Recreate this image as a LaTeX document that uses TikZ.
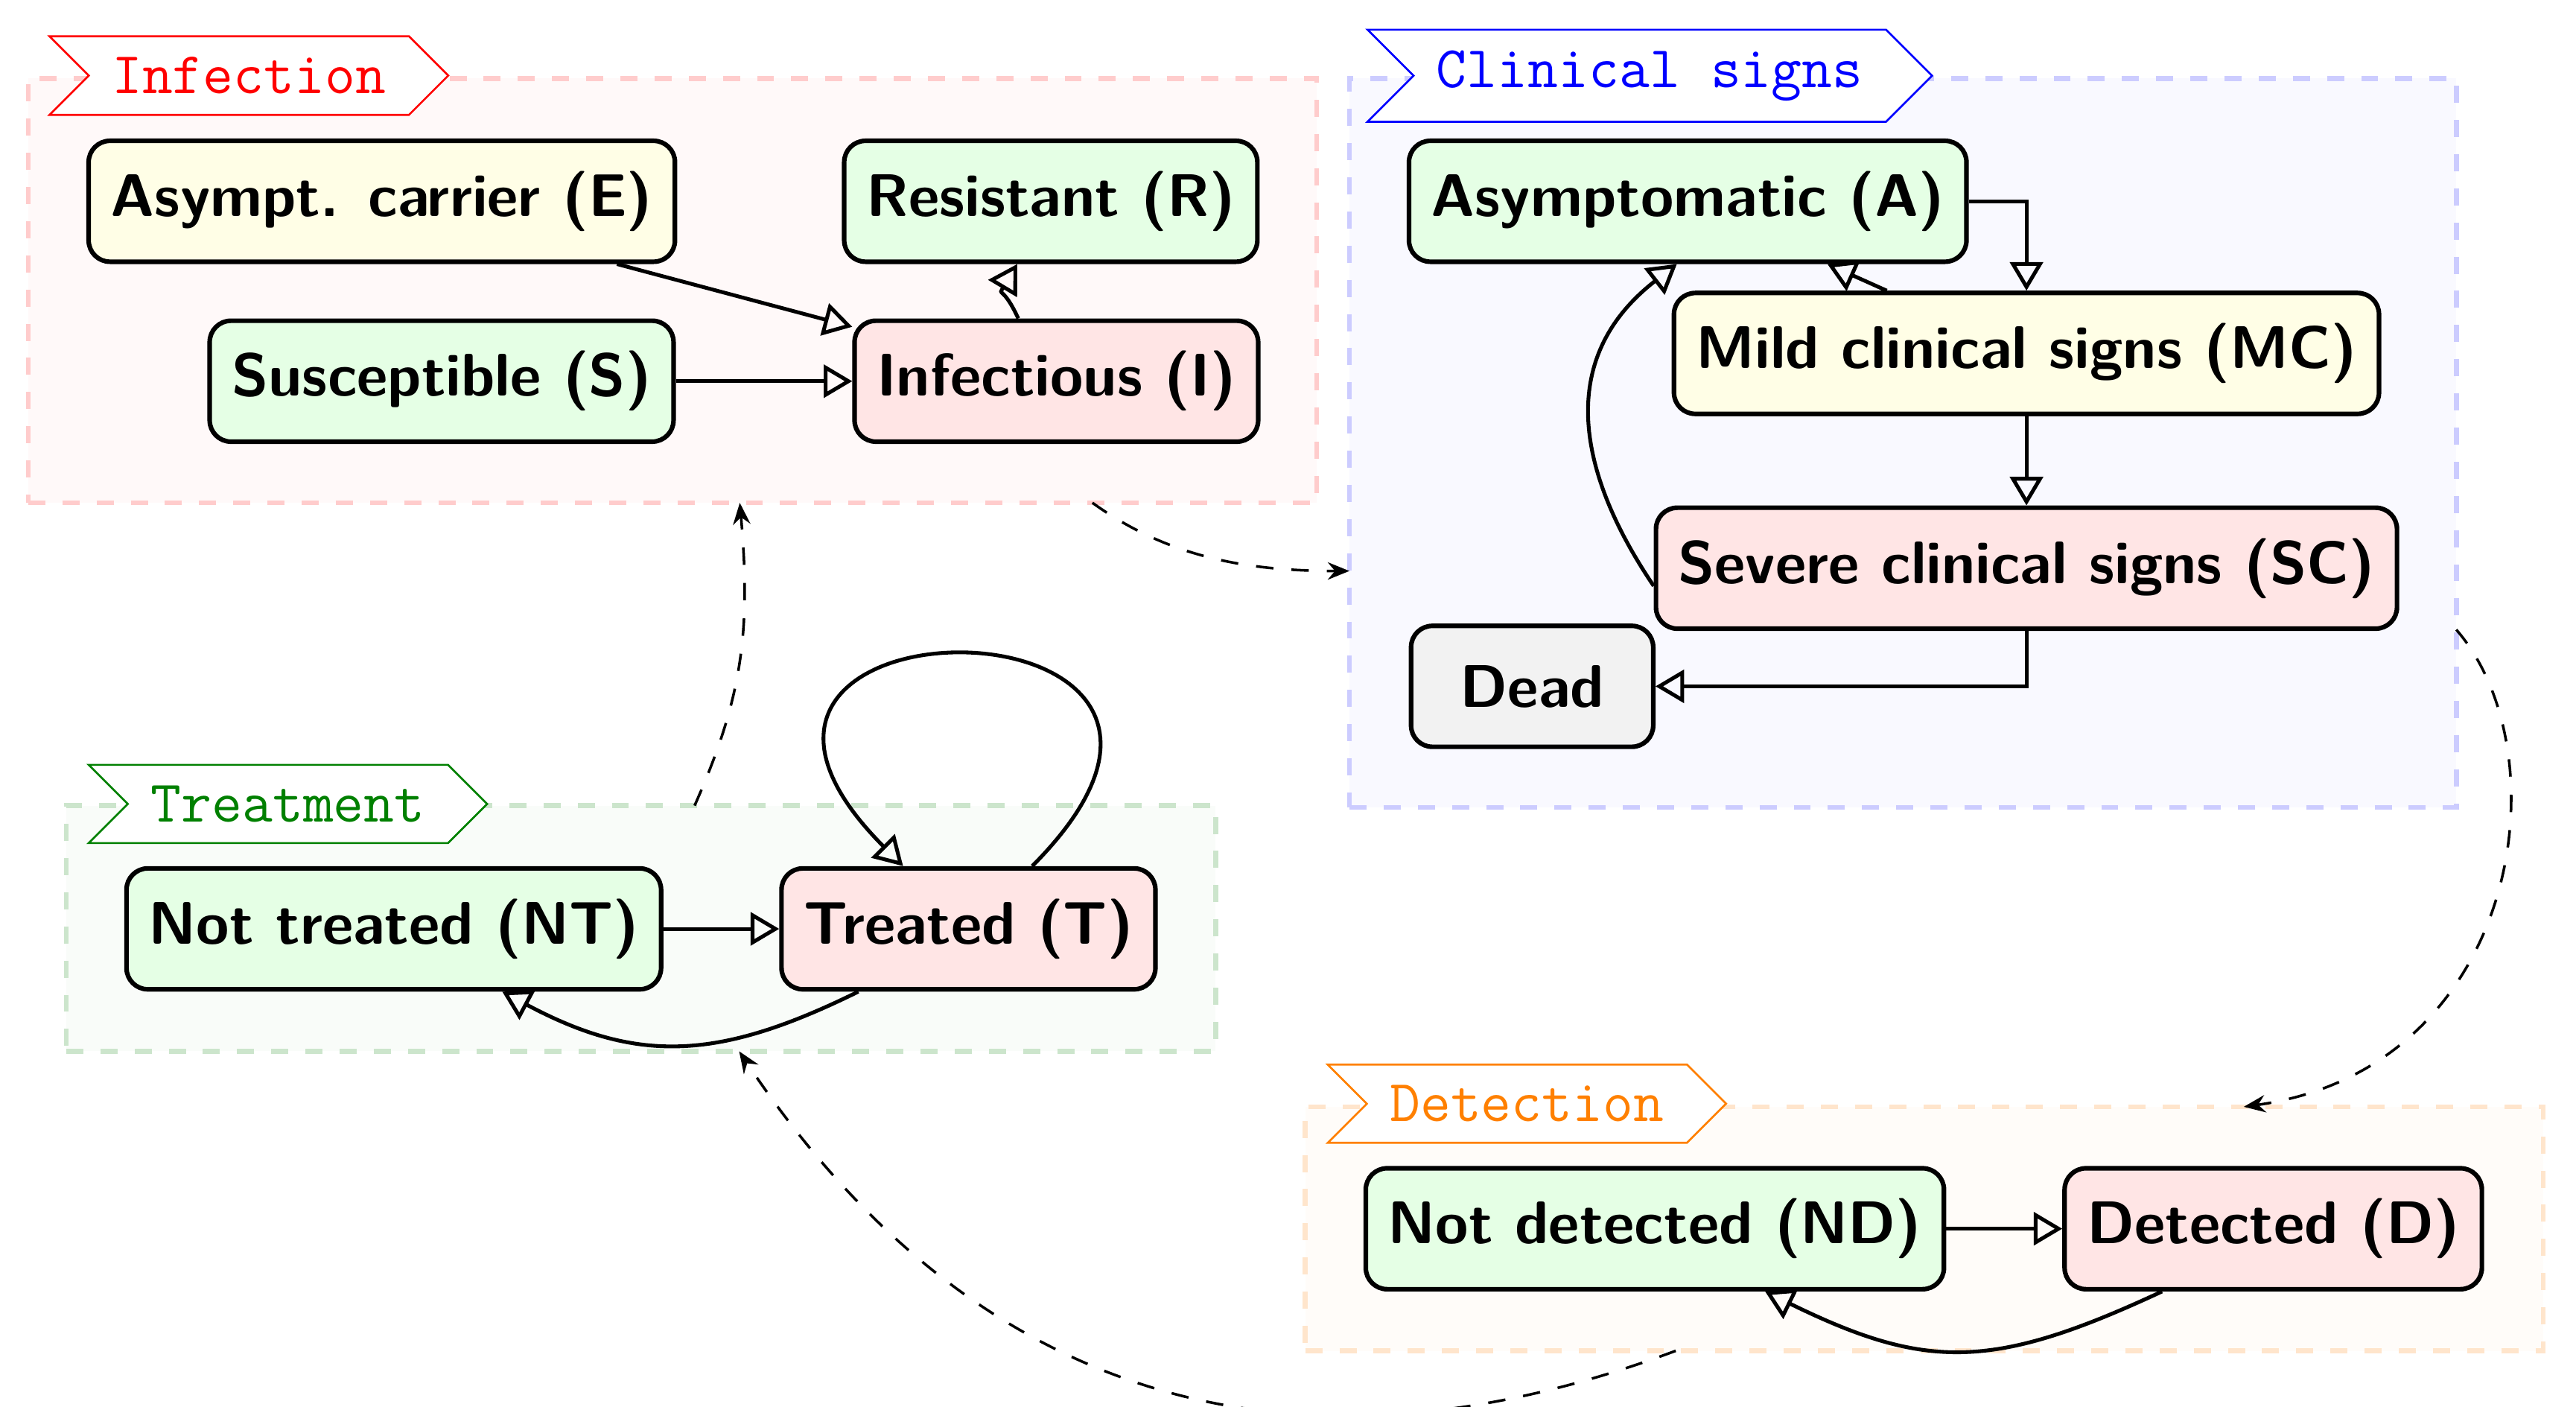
\documentclass[tikz,border=0pt]{standalone}
\usetikzlibrary{shapes.symbols,arrows.meta,calc}
\colorlet{tgreen}{green!50!black}
\begin{document}
\begin{tikzpicture}[x=0.5pt,y=-0.5pt,
  statebox/.style={draw, line width=1.4pt, rounded corners=6.5pt, minimum height=36.8pt, minimum width=73.7pt, inner xsep=6.75pt, inner ysep=0pt, font=\fontsize{18.3}{22}\selectfont\sffamily\bfseries},
  sgreen/.style={statebox, fill=green!10},
  sred/.style={statebox, fill=red!10},
  syellow/.style={statebox, fill=yellow!10},
  sgray/.style={statebox, fill=gray!10},
  groupbox/.style={draw=#1!20, fill=#1!2.5, line width=1.5pt, dash pattern=on 5.2pt off 5.2pt, inner sep=0pt, outer sep=0pt},
  grouptag/.style={signal, signal from=west, signal to=east, draw=#1, text=#1, fill=white, line width=0.6pt, inner xsep=7pt, inner ysep=6.35pt, font=\fontsize{18}{22}\selectfont\ttfamily},
  flowarrow/.style={line width=1.15pt, -{Triangle[open, length=8.7pt, width=10pt]}},
  linkarrow/.style={line width=0.8pt, dash pattern=on 5.3pt off 5.5pt, -{Stealth[length=6.6pt, width=5.3pt, inset=2.2pt]}},
]
\useasboundingbox (0,0) rectangle (1568,856);

% groups
\node[groupbox=red, minimum width=392.15pt, minimum height=129.1pt] (inf) at (409.35,176.9) {};
\node[groupbox=blue, minimum width=336.85pt, minimum height=221.8pt] (clin) at (1158.25,269.5) {};
\node[groupbox=tgreen, minimum width=349.85pt, minimum height=74.75pt] (trt) at (390.15,565.05) {};
\node[groupbox=orange, minimum width=376.75pt, minimum height=74.25pt] (det) at (1171.25,747.85) {};

% tags
\node[grouptag=red] (tinf) at (151.5,46) {Infection};
\node[grouptag=blue] (tclin) at (1004.2,46.1) {Clinical signs};
\node[grouptag=tgreen] (ttrt) at (175.25,489.3) {Treatment};
\node[grouptag=orange] (tdet) at (929.4,671.7) {Detection};

% states
\node[syellow] (E) at (232.4,122.5) {Asympt. carrier (E)};
\node[sgreen] (R) at (639.6,122.5) {Resistant (R)};
\node[sgreen] (S) at (268.8,232) {Susceptible (S)};
\node[sred] (I) at (643,232) {Infectious (I)};
\node[sgreen] (A) at (1027.3,122.5) {Asymptomatic (A)};
\node[syellow] (MC) at (1233.5,215.1) {Mild clinical signs (MC)};
\node[sred] (SC) at (1233.5,345.8) {Severe clinical signs (SC)};
\node[sgray] (Dead) at (932.6,417.7) {Dead};
\node[sgreen] (NT) at (239.7,565.3) {Not treated (NT)};
\node[sred] (T) at (589.5,565.3) {Treated (T)};
\node[sgreen] (ND) at (1007.3,747.8) {Not detected (ND)};
\node[sred] (D) at (1383.7,747.8) {Detected (D)};

% infection
\draw[flowarrow] (E) -- (I);
\draw[flowarrow] (S) -- (I);
\draw[flowarrow] ($(I.north)+(-23.2,0)$) .. controls (610.4,173.4) and (607.4,180.4) .. ($(R.south)+(-20.4,0)$);

% clinical
\draw[flowarrow] (A) -| (MC);
\draw[flowarrow] (MC) -- (A);
\draw[flowarrow] (MC) -- (SC);
\draw[flowarrow] ($(SC.west)+(0,10.8)$) .. controls (967.2,298.4) and (940.6,223) .. ($(A.south)+(-6.6,0)$);
\draw[flowarrow] (SC) |- (Dead);

% treatment
\draw[flowarrow] (NT) -- (T);
\draw[flowarrow] ($(T.south)+(-67,0)$) .. controls (438.3,645) and (388.8,647.9) .. ($(NT.south)+(66,0)$);
\draw[flowarrow] ($(T.north)+(38.8,0)$) .. controls (799,355.7) and (379,355.7) .. ($(T.north)+(-39.8,0)$);

% detection
\draw[flowarrow] (ND) -- (D);
\draw[flowarrow] ($(D.south)+(-67.7,0)$) .. controls (1213,834) and (1172.5,834) .. ($(ND.south)+(67.1,0)$);

% links between groups
\draw[linkarrow] ($(inf.south)+(255.6,0)$) .. controls (712,340) and (761,347.5) .. ($(clin.west)+(0,78)$);
\draw[linkarrow] ($(clin.east)+(0,113.7)$) .. controls (1561,459) and (1534,650) .. ($(det.north)+(194.5,0)$);
\draw[linkarrow] ($(det.south)+(-151.25,0)$) .. controls (738,927) and (561.7,807.7) .. ($(trt.south)+(59.75,0)$);
\draw[linkarrow] ($(trt.north)+(32.65,0)$) .. controls (451.3,426) and (457.3,385.7) .. ($(inf.south)+(40.95,0)$);
\end{tikzpicture}
\end{document}
